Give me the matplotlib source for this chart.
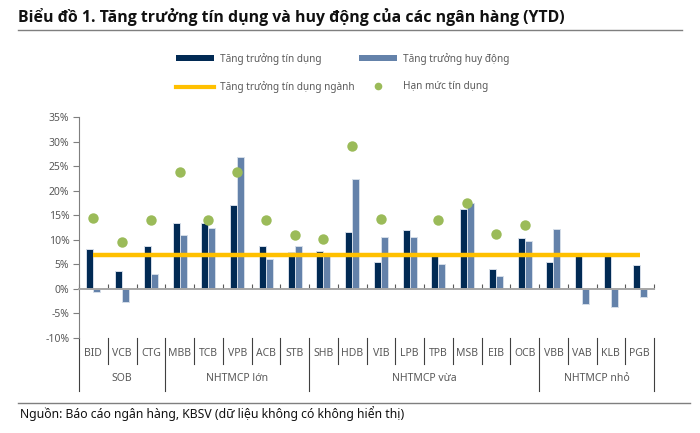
import matplotlib
matplotlib.use("Agg")
import matplotlib.pyplot as plt
import numpy as np
from matplotlib.lines import Line2D
from matplotlib.patches import Patch
import matplotlib.transforms as mtransforms

plt.rcParams['font.family'] = ['Noto Sans', 'DejaVu Sans']

banks = ["BID", "VCB", "CTG", "MBB", "TCB", "VPB", "ACB", "STB", "SHB", "HDB",
         "VIB", "LPB", "TPB", "MSB", "EIB", "OCB", "VBB", "VAB", "KLB", "PGB"]
groups = ["SOB", "NHTMCP lớn", "NHTMCP vừa", "NHTMCP nhỏ"]
group_sizes = [3, 5, 8, 4]
credit = [8.2, 3.7, 8.7, 13.5, 13.4, 17.0, 8.7, 7.5, 7.8, 11.5,
          5.4, 11.9, 7.0, 16.3, 4.1, 10.3, 5.4, 6.8, 6.8, 4.9]
deposit = [-0.7, -2.6, 3.1, 10.9, 12.5, 26.8, 6.0, 8.7, 7.4, 22.4,
           10.6, 10.5, 5.0, 17.4, 2.6, 9.8, 12.1, -3.0, -3.7, -1.6]
limit = [14.5, 9.6, 14.0, 23.9, 14.0, 23.9, 14.0, 11.0, 10.2, 29.0,
         14.2, np.nan, 14.0, 17.5, 11.2, 13.1, np.nan, np.nan, np.nan, np.nan]
industry = [6.9] * len(banks)
yticks = [-10, -5, 0, 5, 10, 15, 20, 25, 30, 35]

c_credit = "#012A54"
c_dep = "#6482AA"
c_ind = "#FFC000"
c_lim = "#9BBB59"
gray_txt = "#595959"

fig = plt.figure(figsize=(7, 4.33), dpi=100)
W, H = 700, 433
ax = fig.add_axes([79 / W, 1 - 338 / H, (654 - 79) / W, (338 - 117) / H])

x = np.arange(len(banks))
bw = 0.245
ax.bar(x - bw / 2, credit, bw, color=c_credit, edgecolor="#D5DDE8", linewidth=0.7, zorder=2)
ax.bar(x + bw / 2, deposit, bw, color=c_dep, edgecolor="#D5DDE8", linewidth=0.7, zorder=2)
ax.plot(x, industry, color=c_ind, lw=3.2, zorder=3, solid_capstyle='butt')
ax.plot(x, limit, 'o', color=c_lim, ms=7.5, zorder=4, markeredgewidth=0)

ax.set_xlim(-0.5, len(banks) - 0.5)
ax.set_ylim(-10, 35)
ax.set_yticks(yticks)
ax.set_yticklabels([f"{v}%" for v in yticks], color=gray_txt, fontsize=7.5)
ax.tick_params(axis='y', direction='out', length=4, color="#7F7F7F", width=0.8, pad=3)

for s in ['top', 'right']:
    ax.spines[s].set_visible(False)
ax.spines['left'].set_color("#7F7F7F")
ax.spines['left'].set_linewidth(0.8)
ax.spines['bottom'].set_position(('data', 0))
ax.spines['bottom'].set_color("#A6A6A6")
ax.spines['bottom'].set_linewidth(1.4)
ax.set_xticks(np.arange(len(banks) + 1) - 0.5)
ax.set_xticklabels([])
ax.tick_params(axis='x', direction='in', length=3.5, color="#595959", width=0.8)

trans = mtransforms.blended_transform_factory(ax.transData, ax.transAxes)
for i, b in enumerate(banks):
    ax.text(i, -0.068, b, transform=trans, ha='center', va='center',
            fontsize=7.5, color=gray_txt, clip_on=False)

bounds = np.cumsum([0] + group_sizes)
group_b = set(bounds.tolist())
for k in range(len(banks) + 1):
    y1 = -0.24 if k in group_b else -0.118
    ax.add_line(Line2D([k - 0.5, k - 0.5], [0, y1], transform=trans,
                       color="#404040", lw=0.8, clip_on=False))
for g, a, b in zip(groups, bounds[:-1], bounds[1:]):
    ax.text((a + b - 1) / 2, -0.185, g, transform=trans, ha='center', va='center',
            fontsize=7.5, color=gray_txt, clip_on=False)

# title
fig.text(18 / W, 1 - 17 / H, "Biểu đồ 1. Tăng trưởng tín dụng và huy động của các ngân hàng (YTD)",
         fontsize=11.4, fontweight='bold', family=['Open Sans', 'DejaVu Sans'],
         color="#111111", ha='left', va='center')
fig.add_artist(Line2D([18 / W, 682 / W], [1 - 30 / H, 1 - 30 / H], color="#7F7F7F", lw=1))
fig.add_artist(Line2D([18 / W, 690 / W], [1 - 403 / H, 1 - 403 / H], color="#7F7F7F", lw=1))
fig.text(20 / W, 1 - 414 / H, "Nguồn: Báo cáo ngân hàng, KBSV (dữ liệu không có không hiển thị)",
         fontsize=8.8, color="#111111", ha='left', va='center')

handles = [Patch(facecolor=c_credit, edgecolor='none'),
           Line2D([], [], color=c_ind, lw=3),
           Patch(facecolor=c_dep, edgecolor='none'),
           Line2D([], [], marker='o', ls='none', color=c_lim, ms=5.5, markeredgewidth=0)]
labels = ["Tăng trưởng tín dụng", "Tăng trưởng tín dụng ngành",
          "Tăng trưởng huy động", "Hạn mức tín dụng"]
leg = fig.legend(handles, labels, ncol=2, loc='upper left',
                 bbox_to_anchor=(176 / W, 1 - 53 / H), frameon=False,
                 fontsize=7.2, handlelength=3.8, handleheight=0.55, handletextpad=0.6,
                 columnspacing=0.45, labelspacing=1.6, borderaxespad=0, borderpad=0)
for t in leg.get_texts():
    t.set_color(gray_txt)

fig.savefig("out.png", dpi=100)
